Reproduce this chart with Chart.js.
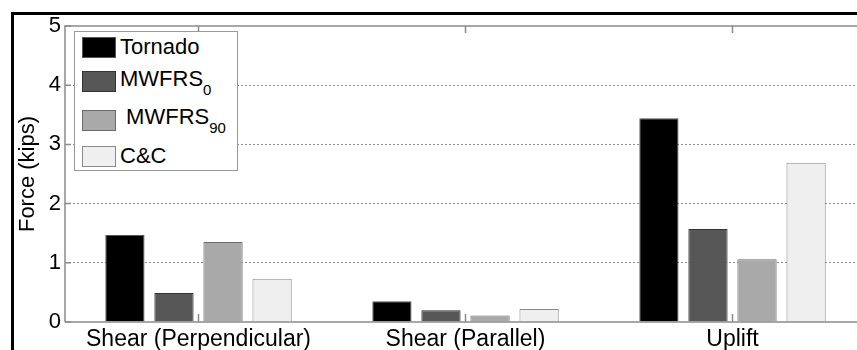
<!DOCTYPE html>
<html>
<head>
<meta charset="utf-8">
<script src="https://cdn.jsdelivr.net/npm/chart.js@4/dist/chart.umd.min.js"></script>
<style>
  html, body { margin: 0; padding: 0; background: #fff; overflow: hidden; }
  #wrap { position: relative; width: 857px; height: 350px; overflow: hidden; }
  #c { position: absolute; left: 0; top: 0; }
  #legend { position: absolute; left: 74px; top: 31px; width: 162px; height: 138px;
            background: #fff; border: 1.5px solid #999; font-family: "Liberation Sans", Arial, sans-serif;
            font-size: 22px; color: #000; }
  .row { position: absolute; left: 7px; height: 22px; display: flex; align-items: center; }
  .sw { width: 34px; height: 21px; box-sizing: border-box; border: 1px solid #333; margin-right: 4px; }
  .txt { line-height: 22px; white-space: pre; }
  .txt sub { font-size: 15px; line-height: 0; vertical-align: -9px; }
</style>
</head>
<body>
<div id="wrap">
  <canvas id="c" width="866" height="350"></canvas>
  <div id="legend"></div>
</div>
<script>
const categories = ['Shear (Perpendicular)', 'Shear (Parallel)', 'Uplift'];
const seriesNames = ['Tornado', 'MWFRS', ' MWFRS', 'C&C'];
const seriesSubs = ['', '0', '90', ''];
const tornado = [1.47, 0.35, 3.44];
const mwfrs0 = [0.49, 0.20, 1.57];
const mwfrs90 = [1.35, 0.11, 1.06];
const cc = [0.73, 0.22, 2.69];
const yTicks = [0, 1, 2, 3, 4, 5];
const fills = ['#000000', '#575757', '#a9a9a9', '#efefef'];
const edges = ['#555555', '#333333', '#6a6a6a', '#8a8a8a'];

const FONT = '"Liberation Sans", Arial, sans-serif';
const seriesValues = [tornado, mwfrs0, mwfrs90, cc];

const datasets = seriesValues.map((vals, i) => ({
  label: seriesNames[i].trim() + seriesSubs[i],
  data: vals,
  backgroundColor: fills[i],
  borderColor: edges[i],
  borderWidth: 1,
  categoryPercentage: 0.735,
  barPercentage: 0.8
}));

const legend = document.getElementById('legend');
const rowTops = [4, 38.5, 77, 113];
seriesNames.forEach((name, i) => {
  const row = document.createElement('div');
  row.className = 'row';
  row.style.top = rowTops[i] + 'px';
  const sw = document.createElement('div');
  sw.className = 'sw';
  sw.style.background = fills[i];
  sw.style.borderColor = edges[i];
  const t = document.createElement('span');
  t.className = 'txt';
  t.textContent = name;
  if (seriesSubs[i]) {
    const s = document.createElement('sub');
    s.textContent = seriesSubs[i];
    t.appendChild(s);
    t.style.transform = 'translateY(-3px)';
  }
  row.appendChild(sw);
  row.appendChild(t);
  legend.appendChild(row);
});

const axisBox = {
  id: 'axisBox',
  afterDatasetsDraw(chart) {
    const {ctx, chartArea: a, scales} = chart;
    ctx.save();
    ctx.strokeStyle = '#8a8a8a';
    ctx.lineWidth = 1.5;
    ctx.setLineDash([]);
    ctx.beginPath();
    ctx.moveTo(a.left, a.bottom); ctx.lineTo(a.left, a.top); ctx.lineTo(a.right + 5, a.top);
    ctx.moveTo(a.left, a.bottom); ctx.lineTo(a.right + 5, a.bottom);
    ctx.stroke();
    ctx.beginPath();
    yTicks.forEach(v => {
      const y = scales.y.getPixelForValue(v);
      ctx.moveTo(a.left, y); ctx.lineTo(a.left + 6, y);
    });
    categories.forEach((c, i) => {
      const x = Math.round(scales.x.getPixelForValue(i)) - 0.5;
      ctx.moveTo(x, a.bottom); ctx.lineTo(x, a.bottom - 8);
      ctx.moveTo(x, a.top); ctx.lineTo(x, a.top + 7);
    });
    ctx.stroke();
    // figure frame (left and top edges)
    ctx.fillStyle = '#000';
    ctx.fillRect(11, 12, 3, chart.height);
    ctx.fillRect(11, 12, chart.width, 3);
    ctx.restore();
  }
};

new Chart(document.getElementById('c'), {
  type: 'bar',
  data: { labels: categories, datasets },
  options: {
    responsive: false,
    animation: false,
    devicePixelRatio: 1,
    layout: { padding: { top: 26, left: 0, right: 0, bottom: 0 } },
    plugins: { legend: { display: false }, tooltip: { enabled: false } },
    scales: {
      x: {
        grid: { display: false, drawTicks: false },
        border: { display: false },
        ticks: { color: '#000', font: { family: FONT, size: 23 }, padding: 4, maxRotation: 0, autoSkip: false },
        afterFit(s) { s.height = 28; }
      },
      y: {
        min: 0, max: 5,
        afterBuildTicks(s) { s.ticks = yTicks.map(v => ({ value: v })); },
        grid: {
          drawTicks: false,
          color: (c) => (c.tick && (c.tick.value === 0 || c.tick.value === 5)) ? 'rgba(0,0,0,0)' : '#8c8c8c',
          lineWidth: 1
        },
        border: { display: false, dash: [2, 2] },
        ticks: { color: '#000', font: { family: FONT, size: 22 }, padding: 4 },
        title: { display: true, text: 'Force (kips)', color: '#000', font: { family: FONT, size: 22 }, padding: { top: 15, bottom: 0 } },
        afterFit(s) { s.width = 65; }
      }
    }
  },
  plugins: [axisBox]
});
</script>
</body>
</html>
